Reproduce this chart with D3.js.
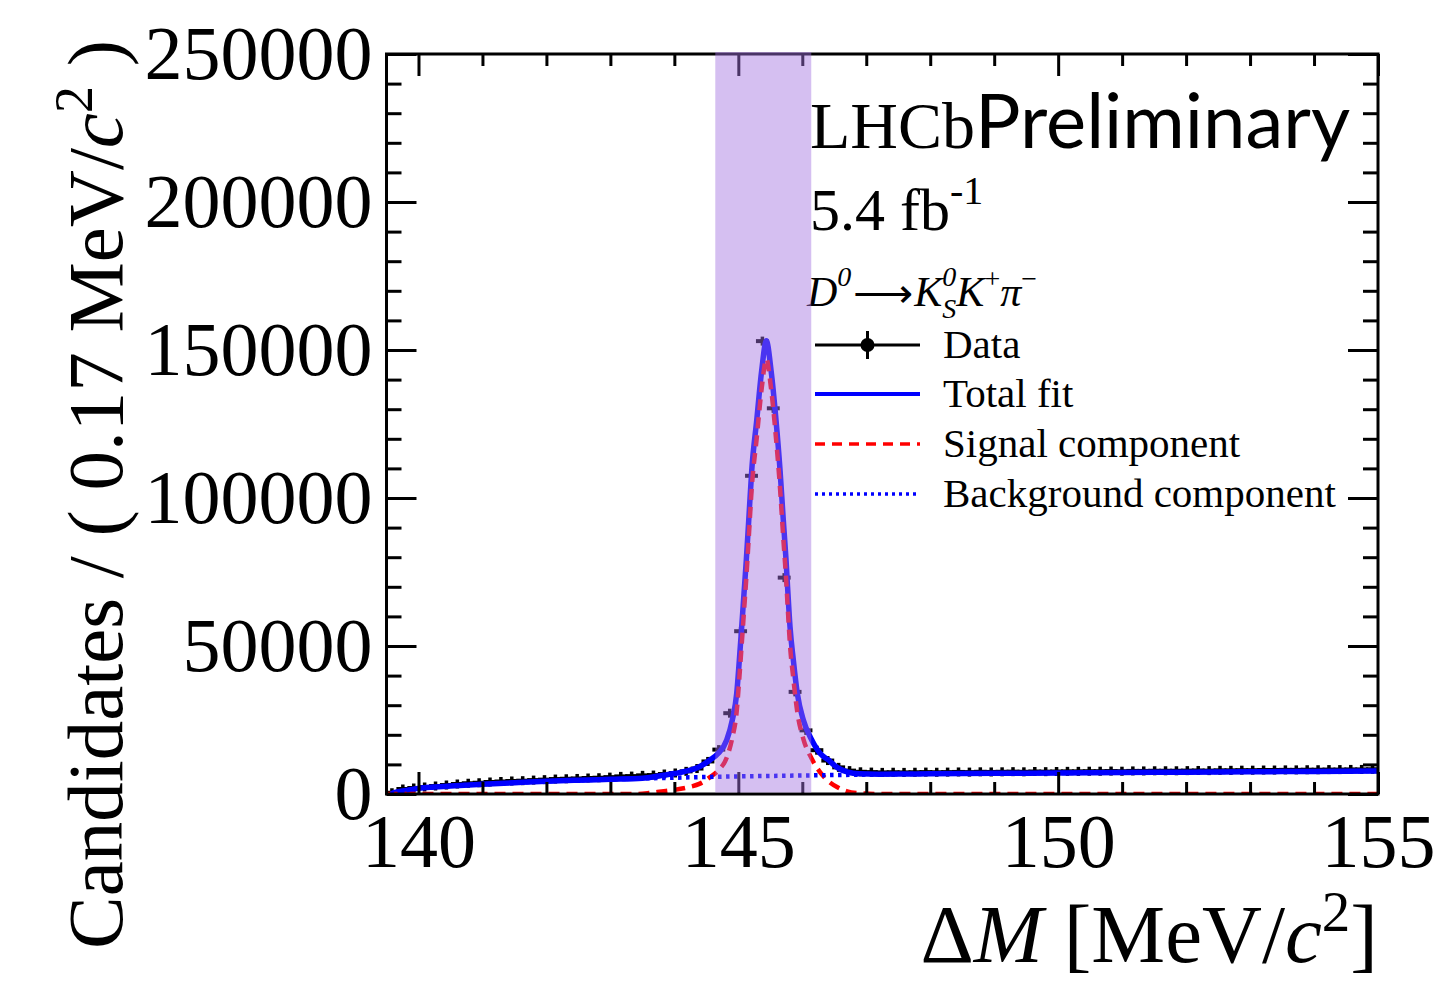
<!DOCTYPE html>
<html>
<head>
<meta charset="utf-8">
<script src="https://cdn.jsdelivr.net/npm/d3@7"></script>
<style>
  body { margin: 0; background: #fff; }
  svg { display: block; }
  text { font-family: "Liberation Serif", "Times New Roman", serif; fill: #000; }
</style>
</head>
<body>
<svg id="chart" width="1450" height="981"></svg>
<script>
// ---- histogram: D*+ - D0 mass difference, 91 bins over [139.5, 155] MeV/c2
const binLow = 139.5;
const binHigh = 155;
const nBins = 91;
const counts = [
  400, 1650, 2000, 2350, 2700, 3000, 3350, 3600, 3800, 4050,
  4250, 4400, 4500, 4700, 4850, 5050, 5150, 5250, 5400, 5500,
  5700, 5950, 6050, 6300, 6400, 6750, 7100, 7650, 8600, 11000,
  15000, 27300, 55000, 107500, 153000, 130300, 73100, 34500, 21500, 14800,
  11300, 9000, 7900, 7500, 7400, 7300, 7350, 7300, 7350, 7400,
  7350, 7400, 7450, 7400, 7500, 7450, 7500, 7550, 7500, 7600,
  7550, 7600, 7650, 7650, 7700, 7700, 7750, 7700, 7800, 7800,
  7850, 7850, 7850, 7900, 7950, 7900, 8000, 8000, 8050, 8050,
  8100, 8100, 8150, 8150, 8200, 8200, 8250, 8250, 8300, 8300,
  8350
];

// ---- fit curves, sampled in MeV/c2
const totalX = [139.57, 139.6, 139.65, 139.75, 139.85, 140.0, 140.25, 140.5, 141.0, 141.5,
  142.0, 142.5, 143.0, 143.5, 143.8, 144.0, 144.2, 144.4, 144.558, 144.687,
  144.819, 144.906, 144.975, 145.016, 145.053, 145.089, 145.125, 145.163, 145.21, 145.288,
  145.366, 145.438, 145.511, 145.589, 145.652, 145.703, 145.746, 145.77, 145.808, 145.86,
  145.922, 146.016, 146.148, 146.277, 146.407, 146.55, 146.7, 146.9, 147.2, 147.5,
  148.0, 149.0, 150.0, 151.0, 152.0, 153.0, 154.0, 155.0];
const totalY = [0, 300, 650, 1050, 1350, 1900, 2350, 2700, 3300, 3800,
  4300, 4650, 4950, 5300, 6250, 6900, 7800, 9300, 11490, 13750,
  18240, 25000, 34020, 45270, 56520, 67800, 79050, 92570, 109460, 126350,
  143240, 153100, 143240, 126350, 109460, 92570, 79050, 70000, 56520, 45270,
  34020, 25000, 18240, 13750, 11490, 8900, 7450, 6800, 6700, 6720,
  6830, 6970, 7110, 7250, 7380, 7510, 7640, 7780];

const signalX = [139.5, 143.4, 143.6, 143.8, 144.0, 144.2, 144.4, 144.558, 144.687, 144.819,
  144.906, 144.975, 145.016, 145.053, 145.089, 145.125, 145.163, 145.21, 145.288, 145.366,
  145.438, 145.511, 145.589, 145.652, 145.703, 145.746, 145.77, 145.808, 145.86, 145.922,
  146.016, 146.148, 146.277, 146.4, 146.55, 146.7, 146.9, 147.2, 155.0];
const signalY = [0, 0, 300, 850, 1400, 2200, 3500, 5700, 8000, 12300,
  19000, 28000, 39300, 50500, 61800, 73050, 86550, 103450, 120300, 137150,
  147000, 137100, 120200, 103300, 86400, 72900, 63850, 50300, 39000, 27700,
  18650, 11900, 7400, 4500, 2300, 900, 250, 0, 0];

const bkgX = [139.57, 139.6, 139.65, 139.75, 139.85, 140.0, 140.25, 140.5, 141.0, 141.5,
  142.0, 142.5, 143.0, 143.5, 144.0, 144.5, 145.0, 145.5, 146.0, 146.5,
  147.0, 147.5, 148.0, 149.0, 150.0, 151.0, 152.0, 153.0, 154.0, 155.0];
const bkgY = [0, 300, 650, 1050, 1350, 1900, 2350, 2700, 3300, 3800,
  4300, 4650, 4950, 5250, 5500, 5750, 5950, 6100, 6250, 6400,
  6550, 6700, 6820, 6960, 7100, 7240, 7370, 7500, 7630, 7770];

// signal window
const band = [144.64, 146.14];

const xMajor = [140, 145, 150, 155];
const yMajor = [0, 50000, 100000, 150000, 200000, 250000];
const legendLabels = ["Data", "Total fit", "Signal component", "Background component"];

// ---- layout
const svg = d3.select("#chart");
const L = 386.5, R = 1378, T = 54, B = 794;
const x = d3.scaleLinear().domain([binLow, binHigh]).range([L, R]);
const y = d3.scaleLinear().domain([0, 250000]).range([B, T]);

svg.append("rect").attr("width", 1450).attr("height", 981).attr("fill", "#fff");

const plot = svg.append("g");
svg.append("clipPath").attr("id", "frameclip")
  .append("rect").attr("x", L).attr("y", T).attr("width", R - L).attr("height", B - T);

// ---- data points
const bw = (binHigh - binLow) / nBins;
const pts = plot.append("g").attr("clip-path", "url(#frameclip)");
counts.forEach((c, i) => {
  const lo = binLow + i * bw, hi = lo + bw, mid = lo + bw / 2;
  const cy = y(c);
  pts.append("line").attr("x1", x(lo) - 1).attr("x2", x(hi) + 1)
    .attr("y1", cy).attr("y2", cy).attr("stroke", "#000").attr("stroke-width", 4);
  pts.append("line").attr("x1", x(mid)).attr("x2", x(mid))
    .attr("y1", cy - 4.5).attr("y2", cy + 4.5).attr("stroke", "#000").attr("stroke-width", 3.5);
});

// ---- curves
const line = (xs, ys) => d3.line().x((d, i) => x(xs[i])).y((d, i) => y(ys[i])).curve(d3.curveMonotoneX)(xs);
const curves = plot.append("g").attr("clip-path", "url(#frameclip)");
curves.append("path").attr("d", line(totalX, totalY))
  .attr("fill", "none").attr("stroke", "#0000ff").attr("stroke-width", 5.5);
curves.append("path").attr("d", line(signalX, signalY))
  .attr("fill", "none").attr("stroke", "#ff0000").attr("stroke-width", 4.5)
  .attr("stroke-dasharray", "11,7");
curves.append("path").attr("d", line(bkgX, bkgY))
  .attr("fill", "none").attr("stroke", "#0000ff").attr("stroke-width", 4.5)
  .attr("stroke-dasharray", "3.5,4.5");

// ---- axes (ticks drawn inward on all four sides)
const axisStyle = g => {
  g.select(".domain").remove();
  g.selectAll(".tick line").attr("stroke", "#000").attr("stroke-width", 3);
  g.selectAll("text").attr("font-size", 76).attr("fill", "#000");
};
const xMinor = d3.range(140, 156, 1).filter(v => !xMajor.includes(v));
const yMinor = d3.range(0, 250001, 10000).filter(v => !yMajor.includes(v));

svg.append("g").attr("transform", `translate(0,${B})`)
  .call(d3.axisBottom(x).tickValues(xMajor).tickSize(-22).tickPadding(19).tickFormat(d3.format("d"))).call(axisStyle);
svg.append("g").attr("transform", `translate(0,${B})`)
  .call(d3.axisBottom(x).tickValues(xMinor).tickSize(-12).tickFormat("")).call(axisStyle);
svg.append("g").attr("transform", `translate(0,${T})`)
  .call(d3.axisTop(x).tickValues(xMajor).tickSize(-22).tickFormat("")).call(axisStyle);
svg.append("g").attr("transform", `translate(0,${T})`)
  .call(d3.axisTop(x).tickValues(xMinor).tickSize(-12).tickFormat("")).call(axisStyle);

svg.append("g").attr("transform", `translate(${L},0)`)
  .call(d3.axisLeft(y).tickValues(yMajor).tickSize(-30).tickPadding(14).tickFormat(d3.format("d"))).call(axisStyle);
svg.append("g").attr("transform", `translate(${L},0)`)
  .call(d3.axisLeft(y).tickValues(yMinor).tickSize(-15).tickFormat("")).call(axisStyle);
svg.append("g").attr("transform", `translate(${R},0)`)
  .call(d3.axisRight(y).tickValues(yMajor).tickSize(-30).tickFormat("")).call(axisStyle);
svg.append("g").attr("transform", `translate(${R},0)`)
  .call(d3.axisRight(y).tickValues(yMinor).tickSize(-15).tickFormat("")).call(axisStyle);

svg.append("rect").attr("x", L).attr("y", T).attr("width", R - L).attr("height", B - T)
  .attr("fill", "none").attr("stroke", "#000").attr("stroke-width", 3);

// ---- axis titles
const yt = svg.append("text").attr("transform", `translate(122,40) rotate(-90)`)
  .attr("text-anchor", "end").attr("font-size", 79);
yt.append("tspan").text("Candidates / ( 0.17 MeV/");
yt.append("tspan").attr("font-style", "italic").text("c");
yt.append("tspan").attr("font-size", 54).attr("dy", -30).text("2");
yt.append("tspan").attr("dy", 30).text(" )");

const xt = svg.append("text").attr("x", R).attr("y", 962)
  .attr("text-anchor", "end").attr("font-size", 83);
xt.append("tspan").text("Δ");
xt.append("tspan").attr("font-style", "italic").text("M");
xt.append("tspan").text(" [MeV/");
xt.append("tspan").attr("font-style", "italic").text("c");
xt.append("tspan").attr("font-size", 57).attr("dy", -31).text("2");
xt.append("tspan").attr("dy", 31).text("]");

// ---- experiment label
const lhcb = svg.append("text").attr("x", 810).attr("y", 148).attr("font-size", 66).text("LHCb");
const lw = lhcb.node().getComputedTextLength();
const prelim = svg.append("text").attr("x", 810 + lw).attr("y", 148).attr("font-size", 70)
  .style("font-family", "Lato, 'Open Sans', sans-serif").text("Preliminary");
const pw = prelim.node().getComputedTextLength();
prelim.attr("font-size", Math.min(76, 70 * (1365 - 810 - lw) / pw));
const lumi = svg.append("text").attr("x", 810).attr("y", 230).attr("font-size", 60);
lumi.append("tspan").text("5.4 fb");
lumi.append("tspan").attr("font-size", 40).attr("dy", -26).text("-1");

// ---- legend
function rich(x0, y0, parts) {
  let cx = x0, stackW = 0;
  parts.forEach(p => {
    const t = svg.append("text").attr("x", cx).attr("y", y0 + (p.dy || 0))
      .attr("font-size", p.size).attr("font-style", p.it ? "italic" : "normal").text(p.t);
    const w = t.node().getComputedTextLength();
    if (p.stack) { stackW = w; }
    else { cx += Math.max(w, stackW) + (p.kern || 0); stackW = 0; }
  });
}
rich(807, 306, [
  { t: "D", size: 42, it: true },
  { t: "0", size: 28, it: true, dy: -20, kern: 2 },
  { t: "⟶", size: 42, dy: 1, kern: 1 },
  { t: "K", size: 42, it: true },
  { t: "0", size: 28, it: true, dy: -20, stack: true },
  { t: "S", size: 28, it: true, dy: 12 },
  { t: "K", size: 42, it: true },
  { t: "+", size: 28, dy: -18 },
  { t: "π", size: 42, it: true },
  { t: "−", size: 28, dy: -18 }
]);

const legY = [345, 394, 444, 494];
const lx0 = 815, lx1 = 920;
const leg = svg.append("g");
leg.append("line").attr("x1", lx0).attr("x2", lx1).attr("y1", legY[0]).attr("y2", legY[0])
  .attr("stroke", "#000").attr("stroke-width", 3);
leg.append("line").attr("x1", (lx0 + lx1) / 2).attr("x2", (lx0 + lx1) / 2)
  .attr("y1", legY[0] - 14).attr("y2", legY[0] + 14).attr("stroke", "#000").attr("stroke-width", 3);
leg.append("circle").attr("cx", (lx0 + lx1) / 2).attr("cy", legY[0]).attr("r", 7).attr("fill", "#000");
leg.append("line").attr("x1", lx0).attr("x2", lx1).attr("y1", legY[1]).attr("y2", legY[1])
  .attr("stroke", "#0000ff").attr("stroke-width", 4);
leg.append("line").attr("x1", lx0).attr("x2", lx1).attr("y1", legY[2]).attr("y2", legY[2])
  .attr("stroke", "#ff0000").attr("stroke-width", 3.5).attr("stroke-dasharray", "10,7");
leg.append("line").attr("x1", lx0).attr("x2", lx1).attr("y1", legY[3]).attr("y2", legY[3])
  .attr("stroke", "#0000ff").attr("stroke-width", 3.5).attr("stroke-dasharray", "3,4");
legendLabels.forEach((s, i) => {
  leg.append("text").attr("x", 943).attr("y", legY[i] + 13).attr("font-size", 41).text(s);
});

// ---- signal window, drawn translucent over everything
svg.append("rect")
  .attr("x", x(band[0])).attr("width", x(band[1]) - x(band[0]))
  .attr("y", T - 2).attr("height", B - T + 0.5)
  .attr("fill", "rgb(163,114,224)").attr("fill-opacity", 0.455);
</script>
</body>
</html>
